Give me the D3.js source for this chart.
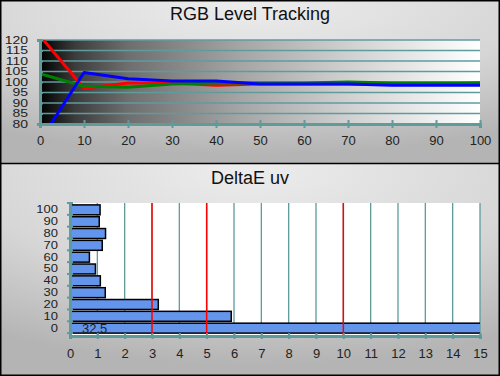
<!DOCTYPE html>
<html>
<head>
<meta charset="utf-8">
<script src="https://cdn.jsdelivr.net/npm/d3@7"></script>
<style>
  body { margin: 0; background: #fff; }
  svg { display: block; font-family: "Liberation Sans", Arial, sans-serif; }
</style>
</head>
<body>
<svg id="chart" width="500" height="376"></svg>
<script>
// RGB level tracking (stimulus level, %)
var levels = [0, 10, 20, 30, 40, 50, 60, 70, 80, 90, 100];
var redVals = [122, 97, 99.5, 99.5, 98.5, 99, 99, 99, 99, 99, 99.5];
var greenVals = [104, 98, 97.5, 99, 99.5, 99.5, 99.5, 100, 99.5, 99.5, 99.5];
var blueVals = [72, 104.5, 101.5, 100.5, 100.5, 99, 99, 99, 98.5, 98.5, 98.5];
var trackTicksY = [80, 85, 90, 95, 100, 105, 110, 115, 120];
var trackTicksX = [0, 10, 20, 30, 40, 50, 60, 70, 80, 90, 100];

// DeltaE uv per level
var deCats = ["0", "10", "20", "30", "40", "50", "60", "70", "80", "90", "100"];
var deValues = [32.5, 5.9, 3.23, 1.29, 1.11, 0.93, 0.71, 1.18, 1.3, 1.07, 1.1];
var deLabels = ["32,5", "", "", "", "", "", "", "", "", "", ""];
var deTicksX = d3.range(0, 16);
var refLines = [3, 5, 10];

var teal = "#5f9b9b";
var svg = d3.select("#chart");
var defs = svg.append("defs");

// panel background
var bg = defs.append("radialGradient").attr("id", "panelBg")
	.attr("cx", "50%").attr("cy", "0%").attr("r", "95%");
bg.append("stop").attr("offset", "0%").attr("stop-color", "#ededed");
bg.append("stop").attr("offset", "60%").attr("stop-color", "#d6d6d6");
bg.append("stop").attr("offset", "100%").attr("stop-color", "#b4b4b4");

var plotBg = defs.append("linearGradient").attr("id", "plotBg")
	.attr("x1", "0%").attr("x2", "100%").attr("y1", "0%").attr("y2", "0%");
[[0, "#000"], [0.08, "#3c3c3c"], [0.2, "#6e6e6e"], [0.45, "#a4a4a4"], [0.7, "#d0d0d0"], [1, "#ffffff"]]
	.forEach(function (s) {
		plotBg.append("stop").attr("offset", s[0]).attr("stop-color", s[1]);
	});

svg.append("rect").attr("x", 0).attr("y", 0).attr("width", 500).attr("height", 163)
	.attr("fill", "url(#panelBg)");
svg.append("rect").attr("x", 0).attr("y", 164).attr("width", 500).attr("height", 212)
	.attr("fill", "url(#panelBg)");

/* ---------- top: RGB Level Tracking ---------- */
var x1 = d3.scaleLinear().domain([0, 100]).range([40, 480]);
var y1 = d3.scaleLinear().domain([80, 120]).range([124, 40]);

svg.append("text")
	.attr("x", 250).attr("y", 20)
	.attr("font-size", 18).attr("fill", "#111")
	.style("text-anchor", "middle")
	.text("RGB Level Tracking");

svg.append("rect")
	.attr("x", x1(0)).attr("y", y1(120))
	.attr("width", x1(100) - x1(0)).attr("height", y1(80) - y1(120))
	.attr("fill", "url(#plotBg)");

defs.append("clipPath").attr("id", "clipTop")
	.append("rect")
	.attr("x", x1(0)).attr("y", y1(120))
	.attr("width", x1(100) - x1(0)).attr("height", y1(80) - y1(120));

// horizontal grid
svg.append("g").selectAll("line")
	.data(trackTicksY)
	.enter().append("line")
	.attr("x1", x1(0)).attr("x2", x1(100))
	.attr("y1", d => y1(d)).attr("y2", d => y1(d))
	.attr("stroke", teal).attr("stroke-width", 1.5);

var line = d3.line().x((d, i) => x1(levels[i])).y(d => y1(d));
var series = [
	{ vals: redVals, color: "#ff0000" },
	{ vals: greenVals, color: "#008000" },
	{ vals: blueVals, color: "#0000ff" }
];
svg.append("g").attr("clip-path", "url(#clipTop)")
	.selectAll("path")
	.data(series)
	.enter().append("path")
	.attr("d", d => line(d.vals))
	.attr("fill", "none")
	.attr("stroke", d => d.color)
	.attr("stroke-width", 3)
	.attr("stroke-linejoin", "round");

// axes
var xAxisTop = svg.append("g")
	.attr("transform", "translate(0," + y1(80) + ")")
	.call(d3.axisBottom(x1).tickValues(trackTicksX).tickSize(4).tickPadding(8));
xAxisTop.select(".domain").attr("stroke", teal).attr("stroke-width", 3);
xAxisTop.selectAll(".tick line").attr("stroke", teal).attr("stroke-width", 2).attr("y1", -4);
xAxisTop.selectAll(".tick text").attr("font-size", 13).attr("fill", "#222")
	.attr("font-family", "Liberation Sans, Arial, sans-serif");

// labels are packed tightly, so squeeze them vertically like the original
var yAxisTop = svg.append("g")
	.attr("transform", "translate(" + x1(0) + ",0)")
	.call(d3.axisLeft(y1).tickValues(trackTicksY).tickSize(3).tickPadding(9));
yAxisTop.select(".domain").attr("stroke", teal).attr("stroke-width", 3);
yAxisTop.selectAll(".tick line").attr("stroke", teal).attr("stroke-width", 2).attr("x2", 3);
yAxisTop.selectAll(".tick text").attr("font-size", 14).attr("fill", "#222")
	.attr("font-family", "Liberation Sans, Arial, sans-serif")
	.attr("transform", "scale(1,0.72)");

/* ---------- bottom: DeltaE uv ---------- */
var x2 = d3.scaleLinear().domain([0, 15]).range([70, 480]);
var y2 = d3.scaleBand().domain(deCats.slice().reverse()).range([203, 335]).padding(0.16);

svg.append("text")
	.attr("x", 250).attr("y", 184)
	.attr("font-size", 18).attr("fill", "#111")
	.style("text-anchor", "middle")
	.text("DeltaE uv");

svg.append("rect")
	.attr("x", x2(0)).attr("y", 203)
	.attr("width", x2(15) - x2(0)).attr("height", 133)
	.attr("fill", "#fff");

defs.append("clipPath").attr("id", "clipBottom")
	.append("rect")
	.attr("x", x2(0)).attr("y", 200)
	.attr("width", x2(15) - x2(0)).attr("height", 136);

// vertical grid
svg.append("g").selectAll("line")
	.data(deTicksX.filter(d => d > 0))
	.enter().append("line")
	.attr("x1", d => x2(d)).attr("x2", d => x2(d))
	.attr("y1", 203).attr("y2", 336)
	.attr("stroke", teal).attr("stroke-width", 1.3);

svg.append("g").attr("clip-path", "url(#clipBottom)")
	.selectAll("rect")
	.data(deValues)
	.enter().append("rect")
	.attr("x", x2(0) + 1)
	.attr("y", (d, i) => y2(deCats[i]))
	.attr("width", d => Math.min(x2(d), x2(15) + 5) - x2(0) - 1)
	.attr("height", y2.bandwidth())
	.attr("fill", "#6495ed")
	.attr("stroke", "#000")
	.attr("stroke-width", 1.5);

// reference lines
svg.append("g").selectAll("line")
	.data(refLines)
	.enter().append("line")
	.attr("x1", d => x2(d)).attr("x2", d => x2(d))
	.attr("y1", 203).attr("y2", 336)
	.attr("stroke", "#ff0000").attr("stroke-width", 1.5);

svg.append("g").selectAll("text")
	.data(deLabels)
	.enter().append("text")
	.attr("x", x2(0) + 12)
	.attr("y", (d, i) => y2(deCats[i]) + y2.bandwidth() / 2 + 5)
	.attr("font-size", 13).attr("fill", "#222")
	.text(d => d);

var xAxisBot = svg.append("g")
	.attr("transform", "translate(0,336)")
	.call(d3.axisBottom(x2).tickValues(deTicksX).tickSize(3).tickPadding(10));
xAxisBot.select(".domain").attr("stroke", teal).attr("stroke-width", 3);
xAxisBot.selectAll(".tick line").attr("stroke", teal).attr("stroke-width", 2).attr("y1", -3);
xAxisBot.selectAll(".tick text").attr("font-size", 13).attr("fill", "#222")
	.attr("font-family", "Liberation Sans, Arial, sans-serif");

var yAxisBot = svg.append("g")
	.attr("transform", "translate(" + x2(0) + ",0)")
	.call(d3.axisLeft(y2).tickSize(0).tickPadding(12));
yAxisBot.select(".domain").attr("stroke", teal).attr("stroke-width", 3);
yAxisBot.selectAll(".tick text").attr("font-size", 13).attr("fill", "#222")
	.attr("font-family", "Liberation Sans, Arial, sans-serif")
	.attr("transform", "scale(1,0.82)");
// ticks at band boundaries
yAxisBot.selectAll(".bound")
	.data(d3.range(0, deCats.length + 1))
	.enter().append("line")
	.attr("x1", -3).attr("x2", 3)
	.attr("y1", d => 203 + d * y2.step()).attr("y2", d => 203 + d * y2.step())
	.attr("stroke", teal).attr("stroke-width", 2);

// frame and divider
svg.append("line").attr("x1", 0).attr("x2", 500).attr("y1", 163.5).attr("y2", 163.5)
	.attr("stroke", "#000").attr("stroke-width", 1.5);
svg.append("rect").attr("x", 0.75).attr("y", 0.75).attr("width", 498.5).attr("height", 374.5)
	.attr("fill", "none").attr("stroke", "#000").attr("stroke-width", 1.5);
</script>
</body>
</html>
